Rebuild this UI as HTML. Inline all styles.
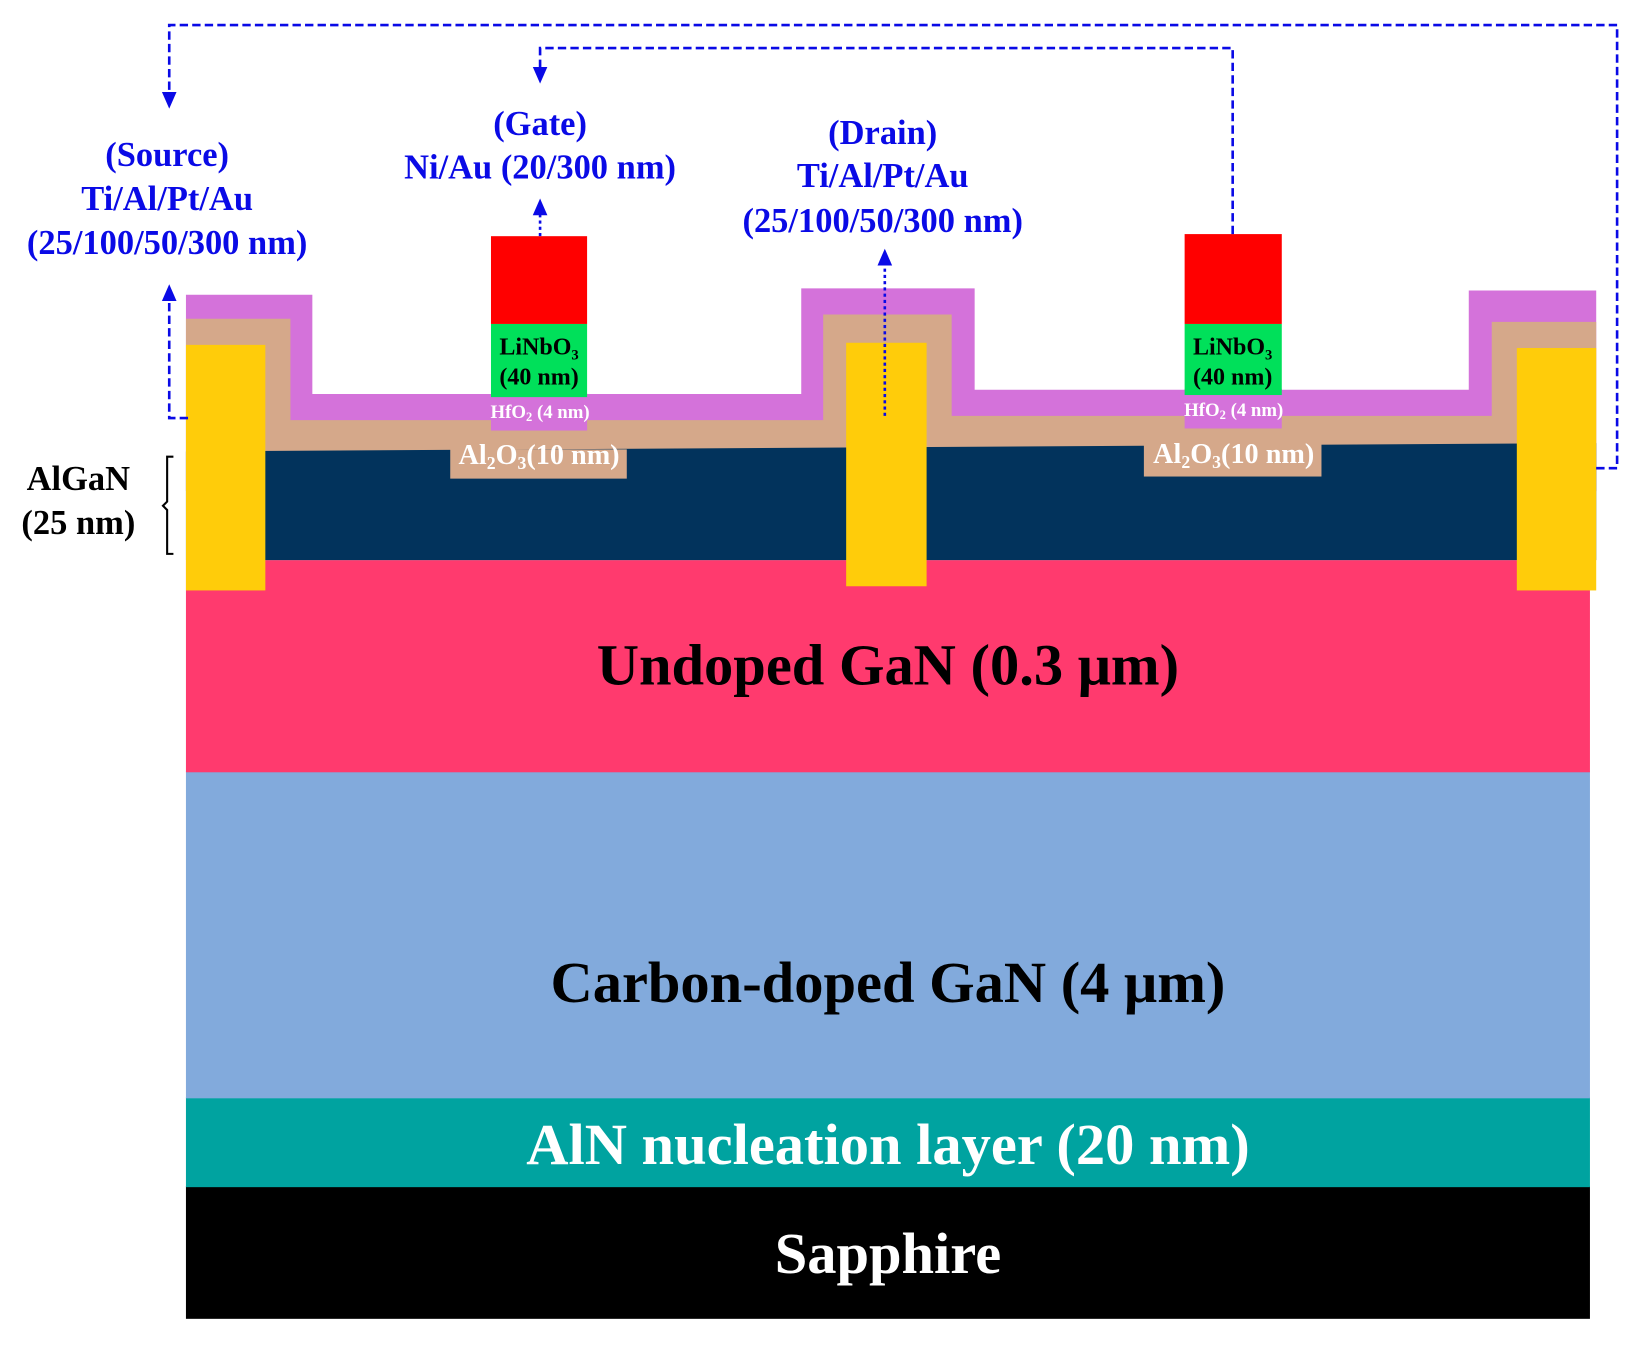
<!DOCTYPE html>
<html><head><meta charset="utf-8"><style>html,body{margin:0;padding:0;background:#fff}svg{display:block}</style></head>
<body>
<svg width="1638" height="1346" viewBox="0 0 1568 1288" preserveAspectRatio="none" xmlns="http://www.w3.org/2000/svg" font-family="'Liberation Serif', serif" font-weight="bold">
<defs>
<marker id="ah" markerWidth="16" markerHeight="16" refX="8" refY="8" orient="auto" markerUnits="userSpaceOnUse" viewBox="0 0 16 16"><path d="M0,1 L16,8 L0,15 z" fill="#0a0ae6"/></marker>
</defs>
<rect x="178" y="1135" width="1344" height="127" fill="#000"/>
<rect x="178" y="1050" width="1344" height="86" fill="#00a3a0"/>
<rect x="178" y="738" width="1344" height="313" fill="#82aadc"/>
<rect x="178" y="536" width="1344" height="203" fill="#ff3a6e"/>
<polygon points="178,282 299,282 299,377 767,377 767,276 933,276 933,373 1406,373 1406,278 1528,278 1528,470 178,470" fill="#d472da"/>
<polygon points="178,305 278,305 278,402 788,402 788,301 911,301 911,398 1428,398 1428,308 1528,308 1528,470 178,470" fill="#d5a88a"/>
<polygon points="178,432 1528,424 1528,536 178,536" fill="#02335c"/>
<rect x="431" y="430" width="169" height="28" fill="#d5a88a"/>
<rect x="1095" y="423" width="170" height="33" fill="#d5a88a"/>
<rect x="470" y="376" width="92" height="36" fill="#d472da"/>
<rect x="1134" y="372" width="93" height="38" fill="#d472da"/>
<rect x="470" y="226" width="92" height="84" fill="#ff0000"/>
<rect x="470" y="310" width="92" height="70" fill="#00e05a"/>
<rect x="1134" y="224" width="93" height="86" fill="#ff0000"/>
<rect x="1134" y="310" width="93" height="68" fill="#00e05a"/>
<rect x="178" y="330" width="76" height="235" fill="#ffcc0a"/>
<rect x="810" y="328" width="77" height="233" fill="#ffcc0a"/>
<rect x="1452" y="333" width="76" height="232" fill="#ffcc0a"/>
<g fill="none" stroke="#0a0ae6" stroke-width="2.5" stroke-dasharray="8,4">
<polyline points="1528,448 1548,448 1548,24 162,24 162,96" marker-end="url(#ah)"/>
<polyline points="1180,224 1180,46 517,46 517,72" marker-end="url(#ah)"/>
<polyline points="180,400 162,400 162,280" marker-end="url(#ah)"/>
</g>
<g fill="none" stroke="#0a0ae6" stroke-width="2.5" stroke-dasharray="3,3">
<polyline points="517,226 517,198" marker-end="url(#ah)"/>
<polyline points="847,398 847,246" marker-end="url(#ah)"/>
</g>
<g fill="#0a0ae6" font-size="33" text-anchor="middle">
<text x="160" y="159">(Source)</text>
<text x="160" y="201">Ti/Al/Pt/Au</text>
<text x="160" y="243">(25/100/50/300 nm)</text>
<text x="517" y="129">(Gate)</text>
<text x="517" y="171">Ni/Au (20/300 nm)</text>
<text x="845" y="138">(Drain)</text>
<text x="845" y="179">Ti/Al/Pt/Au</text>
<text x="845" y="222">(25/100/50/300 nm)</text>
</g>
<g fill="#000" font-size="33" text-anchor="middle">
<text x="75" y="469">AlGaN</text>
<text x="75" y="511">(25 nm)</text>
</g>
<path d="M166,437 L160,437 L160,480 L156,484 L160,488 L160,530 L166,530" fill="none" stroke="#000" stroke-width="2"/>
<g font-size="23" text-anchor="middle" fill="#000">
<text x="516" y="339">LiNbO<tspan font-size="14" dy="5">3</tspan></text>
<text x="516" y="368">(40 nm)</text>
<text x="1180" y="339">LiNbO<tspan font-size="14" dy="5">3</tspan></text>
<text x="1180" y="368">(40 nm)</text>
</g>
<g font-size="18" text-anchor="middle" fill="#fff">
<text x="517" y="400">HfO<tspan font-size="12" dy="3">2</tspan><tspan dy="-3"> (4 nm)</tspan></text>
<text x="1181" y="398">HfO<tspan font-size="12" dy="3">2</tspan><tspan dy="-3"> (4 nm)</tspan></text>
</g>
<g font-size="27" text-anchor="middle" fill="#fff">
<text x="516" y="444">Al<tspan font-size="17" dy="5">2</tspan><tspan dy="-5">O</tspan><tspan font-size="17" dy="5">3</tspan><tspan dy="-5">(10 nm)</tspan></text>
<text x="1181" y="443">Al<tspan font-size="17" dy="5">2</tspan><tspan dy="-5">O</tspan><tspan font-size="17" dy="5">3</tspan><tspan dy="-5">(10 nm)</tspan></text>
</g>
<g font-size="56" text-anchor="middle">
<text x="850" y="655" fill="#000">Undoped GaN (0.3 μm)</text>
<text x="850" y="959" fill="#000">Carbon-doped GaN (4 μm)</text>
<text x="850" y="1114" fill="#fff">AlN nucleation layer (20 nm)</text>
<text x="850" y="1218" fill="#fff">Sapphire</text>
</g>
</svg>
</body></html>
